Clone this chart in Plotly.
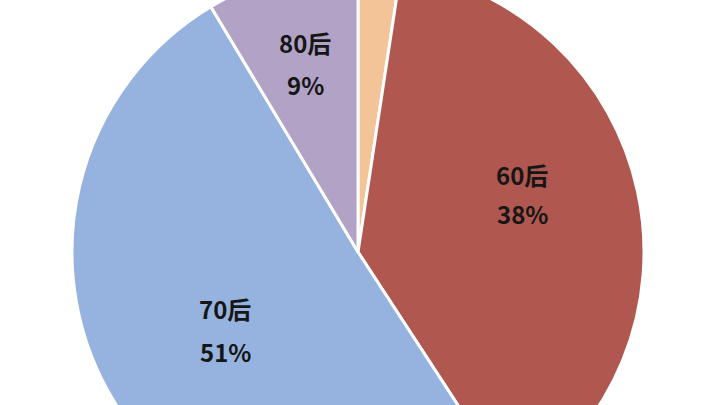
import plotly.graph_objects as go

# 年代分布
labels = ["其他", "60后", "70后", "80后"]
shares = [2.4, 38.4, 50.6, 8.6]
colors = ["#F2C498", "#B0574F", "#95B3DE", "#B2A3C6"]

W, H, LIFT = 720, 572, 34

fig = go.Figure(go.Pie(
    labels=labels, values=shares, sort=False, direction="clockwise", rotation=0,
    marker=dict(colors=colors, line=dict(color="white", width=3)),
    textinfo="none", hoverinfo="label+percent",
    domain=dict(x=[0, 716 / W], y=[0, 1]),
    showlegend=False,
))

# label spots (window pixels): name line and percent line, small slice left bare
spots = {"60后": (522, 174, 213), "70后": (225, 308, 351), "80后": (305, 43, 85)}
total = sum(shares)
font = dict(family="Noto Sans CJK SC", size=24, color="#161616", weight="bold")
for name, v in zip(labels, shares):
    if name not in spots:
        continue
    x, y1, y2 = spots[name]
    for txt, yy in [(name, y1), (f"{round(v / total * 100)}%", y2)]:
        fig.add_annotation(x=x / W, y=1 - (yy + LIFT) / H, xref="paper", yref="paper",
                           text=txt, showarrow=False, font=font,
                           xanchor="center", yanchor="middle")

fig.update_layout(width=W, height=H, margin=dict(l=0, r=0, t=0, b=0),
                  paper_bgcolor="white", plot_bgcolor="white")

# the pie in the picture runs past the top edge, so lift the plot a bit
shift = "var d=document.getElementById('{plot_id}');d.style.position='absolute';d.style.top='-%dpx';d.style.left='0px';" % LIFT
fig.write_html("out.html", post_script=shift)
